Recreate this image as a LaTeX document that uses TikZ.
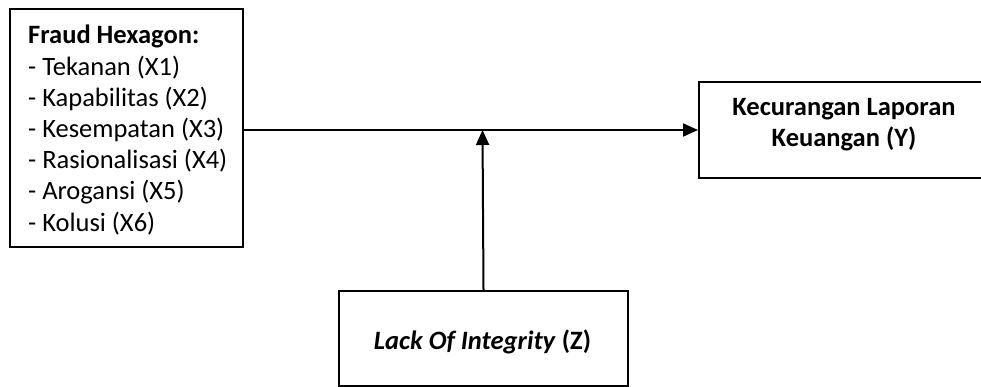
\documentclass[tikz,border=0pt]{standalone}
\usepackage{fontspec}
\setmainfont{Carlito}
\usetikzlibrary{arrows.meta}
\begin{document}
\begin{tikzpicture}[x=1pt,y=-1pt,
  box/.style={draw=black, line width=2pt, inner sep=0pt, anchor=north west},
  txt/.style={font=\fontsize{26.5}{31}\selectfont, inner sep=0pt, anchor=base west},
  ctxt/.style={font=\fontsize{26.5}{31}\selectfont\bfseries, inner sep=0pt, anchor=base},
  arr/.style={line width=2pt, -{Triangle[length=15pt,width=13pt]}}]
\useasboundingbox (0,0) rectangle (981,387);
\node[box, minimum width=233pt, minimum height=238pt] (hex) at (9,8) {};
\node[box, minimum width=292pt, minimum height=96pt] (y) at (698,81) {};
\node[box, minimum width=289pt, minimum height=95pt] (z) at (338,290) {};
% left box text
\node[txt] (l0) at (28,44) {\bfseries Fraud Hexagon:};
\node[txt] (l1) at (28,75.2) {- Tekanan (X1)};
\node[txt] (l2) at (28,106.4) {- Kapabilitas (X2)};
\node[txt] (l3) at (28,137.6) {- Kesempatan (X3)};
\node[txt] (l4) at (28,168.8) {- Rasionalisasi (X4)};
\node[txt] (l5) at (28,200) {- Arogansi (X5)};
\node[txt] (l6) at (28,231.2) {- Kolusi (X6)};
% right box text
\node[ctxt] (y1) at (844,116) {Kecurangan Laporan};
\node[ctxt] (y2) at (844,147) {Keuangan (Y)};
% bottom box text
\node[ctxt] (z1) at (482.5,349) {\textit{Lack Of Integrity} (Z)};
% connectors
\coordinate (j) at (482.5,130);
\draw[arr] (hex.east |- j) -- (y.west |- j);
\draw[arr] (z.north) -- (j);
\end{tikzpicture}
\end{document}
